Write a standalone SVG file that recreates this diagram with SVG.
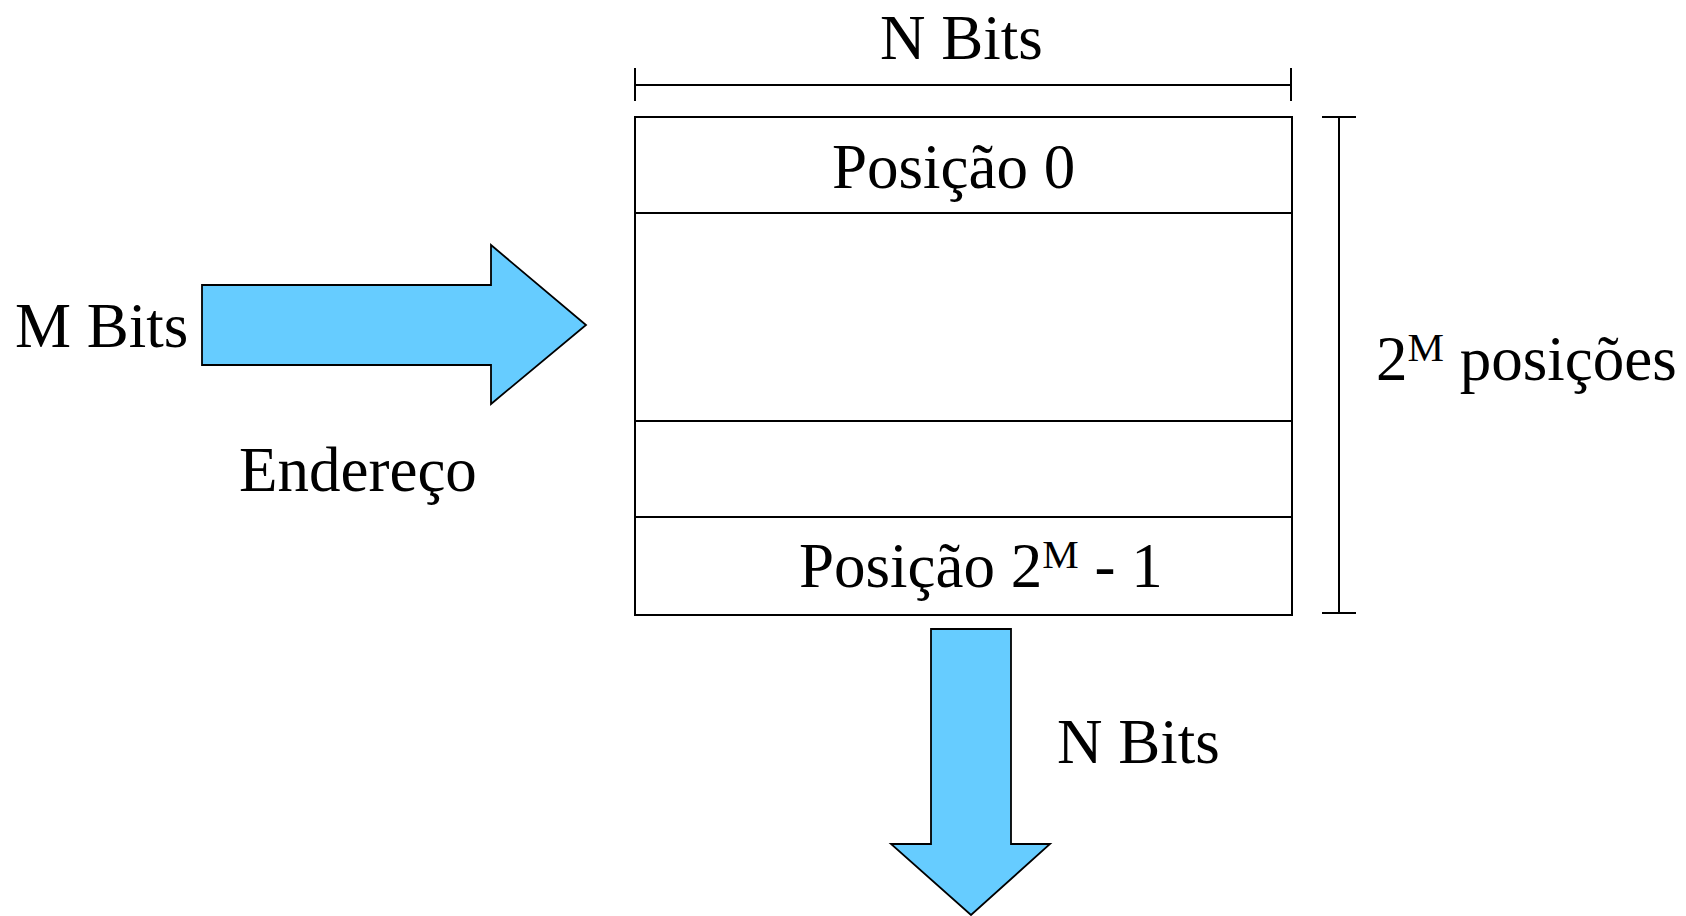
<svg xmlns="http://www.w3.org/2000/svg" width="1686" height="916" viewBox="0 0 1686 916">
  <style>
    .t { font-family: "Liberation Serif", "Times New Roman", serif; font-size: 63px; fill: #000; }
    .sup { font-size: 41px; }
    .ln { stroke: #000; stroke-width: 2; fill: none; }
    .cell { fill: #fff; stroke: #000; stroke-width: 2; }
    .arrow { fill: #66CCFF; stroke: #000; stroke-width: 1.8; stroke-linejoin: miter; }
  </style>
  <rect width="1686" height="916" fill="#fff"/>

  <!-- width dimension: N Bits -->
  <g id="width-dim">
    <line class="ln" x1="635" y1="85" x2="1291" y2="85"/>
    <line class="ln" x1="635" y1="68" x2="635" y2="101"/>
    <line class="ln" x1="1291" y1="68" x2="1291" y2="101"/>
    <text class="t" x="880" y="59">N Bits</text>
  </g>

  <!-- memory array -->
  <g id="memory">
    <rect class="cell" x="635" y="117" width="657" height="498"/>
    <line class="ln" x1="635" y1="213" x2="1292" y2="213"/>
    <line class="ln" x1="635" y1="421" x2="1292" y2="421"/>
    <line class="ln" x1="635" y1="517" x2="1292" y2="517"/>
    <text class="t" x="832" y="188">Posição 0</text>
    <text class="t" x="799" y="587">Posição 2<tspan class="sup" dy="-19">M</tspan><tspan dy="19"> - 1</tspan></text>
  </g>

  <!-- height dimension: 2^M posições -->
  <g id="height-dim">
    <line class="ln" x1="1339" y1="117" x2="1339" y2="613"/>
    <line class="ln" x1="1322" y1="117" x2="1356" y2="117"/>
    <line class="ln" x1="1322" y1="613" x2="1356" y2="613"/>
    <text class="t" x="1376" y="380">2<tspan class="sup" dy="-19">M</tspan><tspan dy="19"> posições</tspan></text>
  </g>

  <!-- address input -->
  <g id="address">
    <text class="t" x="15" y="347">M Bits</text>
    <text class="t" x="239" y="491">Endereço</text>
  </g>

  <!-- data output -->
  <g id="data-out">
    <text class="t" x="1057" y="763">N Bits</text>
  </g>

  <g id="connectors">
    <polygon class="arrow" points="202,285 491,285 491,245 586,325 491,404 491,365 202,365"/>
    <polygon class="arrow" points="931,629 1011,629 1011,844 1050,844 971,915 891,844 931,844"/>
  </g>
</svg>
